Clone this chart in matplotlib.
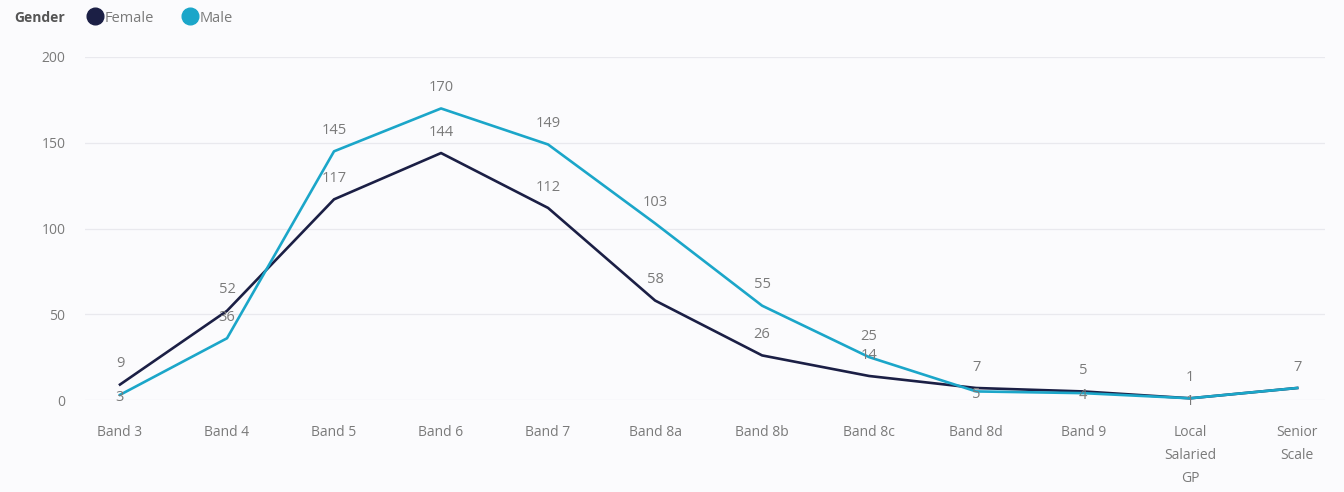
import matplotlib
matplotlib.use("Agg")
import matplotlib.pyplot as plt
from matplotlib.lines import Line2D

categories = ["Band 3", "Band 4", "Band 5", "Band 6", "Band 7", "Band 8a", "Band 8b",
              "Band 8c", "Band 8d", "Band 9", "Local\nSalaried\nGP", "Senior\nScale"]
female = [9, 52, 117, 144, 112, 58, 26, 14, 7, 5, 1, 7]
male = [3, 36, 145, 170, 149, 103, 55, 25, 5, 4, 1, 7]
yticks = [0, 50, 100, 150, 200]

# label placement (style): True = above point, False = on/below point, None = hidden
female_pos = [True] * 12
male_pos = [False, True, True, True, True, True, True, True, False, False, False, None]

FEMALE_C = "#1b1f45"
MALE_C = "#1ba6c9"
TXT = "#7a7a7a"
BG = "#fbfbfd"

plt.rcParams['font.family'] = ['Open Sans', 'DejaVu Sans']

fig = plt.figure(figsize=(13.44, 4.92), dpi=100, facecolor=BG)
ax = fig.add_axes([85/1344, 1-400/492, (1325-85)/1344, (400-57)/492])
ax.set_facecolor(BG)

x = list(range(len(categories)))
ax.plot(x, female, color=FEMALE_C, lw=1.9, zorder=3, solid_joinstyle='round')
ax.plot(x, male, color=MALE_C, lw=1.9, zorder=4, solid_joinstyle='round')

for xs, vals, pos in [(x, female, female_pos), (x, male, male_pos)]:
    for xi, v, p in zip(xs, vals, pos):
        if p is None:
            continue
        off = 15 if p else -2
        ax.annotate(str(v), (xi, v), xytext=(0, off), textcoords='offset points',
                    ha='center', va='center', fontsize=10.5, color=TXT, zorder=5)

ax.set_xlim(-0.327, 11.26)
ax.set_ylim(0, 200)
ax.set_yticks(yticks)
ax.set_yticklabels([str(t) for t in yticks])
ax.set_xticks(x)
ax.set_xticklabels(categories, linespacing=1.75, va='top')
ax.tick_params(axis='both', length=0, colors=TXT, labelsize=10)
ax.tick_params(axis='y', pad=14)
ax.tick_params(axis='x', pad=18)
ax.grid(axis='y', color='#e9e9ee', lw=0.9)
ax.set_axisbelow(True)
for s in ax.spines.values():
    s.set_visible(False)

fig.text(14/1344, 1-18/492, "Gender", fontsize=10, fontweight='bold', color='#555555',
         ha='left', va='center')
handles = [Line2D([], [], marker='o', ls='', markersize=12, color=FEMALE_C, label='Female'),
           Line2D([], [], marker='o', ls='', markersize=12, color=MALE_C, label='Male')]
fig.legend(handles=handles, loc='center left', bbox_to_anchor=(86/1344, 1-18/492), ncol=2,
           frameon=False, fontsize=10.5, labelcolor=TXT, handletextpad=0.05,
           columnspacing=1.9, handlelength=1.2, borderaxespad=0, borderpad=0)

fig.savefig("out.png", dpi=100, facecolor=BG)
